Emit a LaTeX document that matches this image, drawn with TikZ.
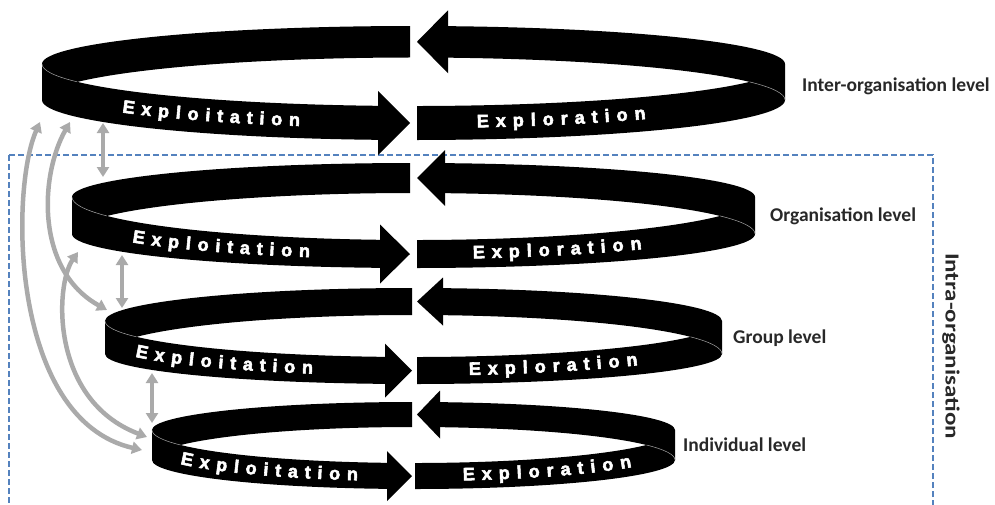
\documentclass[tikz,border=0pt]{standalone}
\usepackage{fontspec}
\usetikzlibrary{arrows.meta}
\newfontfamily\labelfont{Carlito}
\newfontfamily\bandfont{Liberation Sans}[BoldFeatures={FakeBold=3}]
\definecolor{arrowgray}{RGB}{170,170,170}
\definecolor{dashblue}{RGB}{84,130,190}
\definecolor{labelgray}{RGB}{40,40,40}

% #1 = left x of the word, #2 = letter/centre-offset list, #3 = name prefix
\newcommand\bandword[3]{%
  \foreach \lch/\ldx [count=\lk] in {#2} {%
    \pgfmathsetmacro\lxc{#1+\ldx}%
    \pgfmathsetmacro\luu{(\lxc-\rcx)/\rax}%
    \pgfmathsetmacro\lsq{sqrt(1-\luu*\luu)}%
    \pgfmathsetmacro\lyc{(\rya+\ryb)/2+(\rqa+\rqb)/2*\lsq+5}%
    \pgfmathsetmacro\lang{atan((\rqa+\rqb)/2*\luu/(\rax*\lsq))}%
    \node[bandletter, rotate=\lang] (#3-\lk) at (\lxc,-\lyc) {\lch};
  }%
}

\begin{document}
\begin{tikzpicture}[x=1pt,y=1pt,
  bandletter/.style={text=white, font=\bandfont\bfseries\fontsize{18}{18}\selectfont, inner sep=0pt, anchor=base},
  fold/.style={draw=gray!70, line width=0.5pt},
  grayarrow/.style={draw=arrowgray, line width=4.5pt, >={Triangle[width=12pt,length=10pt]}, <->},
  levellabel/.style={font=\labelfont\bfseries\fontsize{19.5}{20}\selectfont, text=labelgray, anchor=base west, inner sep=0pt},
  intralabel/.style={font=\labelfont\bfseries\fontsize{20}{22}\selectfont, text=labelgray, inner sep=0pt, rotate=-90, xscale=1.25}]

\useasboundingbox (0,0) rectangle (995,-504);
\fill[white] (0,0) rectangle (995,-504);

% dashed frame of the intra-organisation levels
\draw[dashblue, line width=1.1pt, dash pattern=on 6pt off 3pt] (9,-155) rectangle (933,-530);

% rings
\foreach \rcx/\rax/\rya/\ryb/\rpa/\rpb/\rqa/\rqb/\rlb/\rtb/\rbb/\rhb/\rbf/\rtf/\rhf/\rrf/\rxl/\rxr [count=\ri] in {
  413.5/371.5/64/100/38/42.5/42/40/410/417/448/31.5/378/410/32/417/122/477,
  413.5/341.5/197/234/34/41/43/34/410/417/445/28/380/410/29.5/417/132/473,
  413.5/308.5/321/354/33/39/36/30/412/417/443/24/385/412/27/417/135/469,
  413.5/261.5/430/460/28/33/33/29/412/417/440/24/387/412/25/415/180/463}
{
  \pgfmathsetmacro\ral{asin((\ryb-\rya)/(\rqa+\rpb))}
  \pgfmathsetmacro\rym{((\ryb-\rpb)+(\rya+\rqa))/2}
  \pgfmathsetmacro\rT{\rya-\rpa-10}
  \pgfmathsetmacro\rB{\ryb+\rqb+10}
  \pgfmathsetmacro\ryB{((\rya-\rpa)+(\ryb-\rpb))/2}
  \pgfmathsetmacro\ryF{((\rya+\rqa)+(\ryb+\rqb))/2}
  \pgfmathsetmacro\rRx{\rcx+\rax*cos(\ral)}
  \pgfmathsetmacro\rRy{\ryb-\rpb*sin(\ral)}
  \pgfmathsetmacro\ralb{180-\ral}
  \pgfmathsetmacro\ralc{180+\ral}
  \pgfmathsetmacro\rald{360-\ral}
  \begin{scope}
    \clip (0,-\rT) -- (\rlb,-\rT) -- (\rlb,-\rym) -- (\rbf+1,-\rym) -- (\rbf+1,-\rB) -- (0,-\rB) -- cycle
          (\rbb-1,-\rT) -- (1000,-\rT) -- (1000,-\rB) -- (\rrf,-\rB) -- (\rrf,-\rym) -- (\rbb-1,-\rym) -- cycle;
    \fill[black, even odd rule]
      (\rcx-\rax,-\rya) arc[start angle=180, end angle=0, x radius=\rax, y radius=\rpa]
        -- (\rcx+\rax,-\ryb) arc[start angle=360, end angle=180, x radius=\rax, y radius=\rqb] -- cycle
      (\rRx,-\rRy) arc[start angle=\ral, end angle=\ralb, x radius=\rax, y radius=\rpb]
        arc[start angle=\ralc, end angle=\rald, x radius=\rax, y radius=\rqa] -- cycle;
    \draw[fold] (\rcx-\rax,-\rya) arc[start angle=180, end angle=\ralc, x radius=\rax, y radius=\rqa];
    \draw[fold] (\rRx,-\rRy) arc[start angle=\ral, end angle=0, x radius=\rax, y radius=\rpb];
  \end{scope}
  \fill[black] (\rtb,-\ryB) -- (\rbb,-\ryB+\rhb) -- (\rbb,-\ryB-\rhb) -- cycle;
  \fill[black] (\rtf,-\ryF) -- (\rbf,-\ryF+\rhf) -- (\rbf,-\ryF-\rhf) -- cycle;
  \bandword{\rxl}{E/6.0, x/23.8, p/41.1, l/55.9, o/70.7, i/85.5, t/97.8, a/112.6, t/127.4, i/139.7, o/154.5, n/172.3}{exploit\ri}
  \bandword{\rxr}{E/6.0, x/24.0, p/41.5, l/56.5, o/71.5, r/87.5, a/103.0, t/118.0, i/130.5, o/145.5, n/163.5}{explor\ri}
}

% level labels
\node[levellabel] (inter) at (802,-91) {Inter-organisation level};
\node[levellabel] (org) at (770,-221) {Organisation level};
\node[levellabel] (group) at (733,-343) {Group level};
\node[levellabel] (indiv) at (683,-451) {Individual level};
\node[intralabel] (intra) at (951,-346) {Intra-organisation};

% grey connectors between levels
\coordinate (v1t) at (103,-123); \coordinate (v1b) at (103,-177);
\coordinate (v2t) at (122,-255); \coordinate (v2b) at (122,-308);
\coordinate (v3t) at (152,-373); \coordinate (v3b) at (152,-423);
\coordinate (c1t) at (40,-122);  \coordinate (c1b) at (142,-450);
\coordinate (c2t) at (70,-122);  \coordinate (c2b) at (107,-310);
\coordinate (c3t) at (78,-252);  \coordinate (c3b) at (147,-437);
\draw[grayarrow] (v1t) -- (v1b);
\draw[grayarrow] (v2t) -- (v2b);
\draw[grayarrow] (v3t) -- (v3b);
\draw[grayarrow] (c1t) .. controls (10,-190) and (10,-420) .. (c1b);
\draw[grayarrow] (c2t) .. controls (40,-175) and (35,-270) .. (c2b);
\draw[grayarrow] (c3t) .. controls (55,-285) and (50,-400) .. (c3b);
\end{tikzpicture}
\end{document}
